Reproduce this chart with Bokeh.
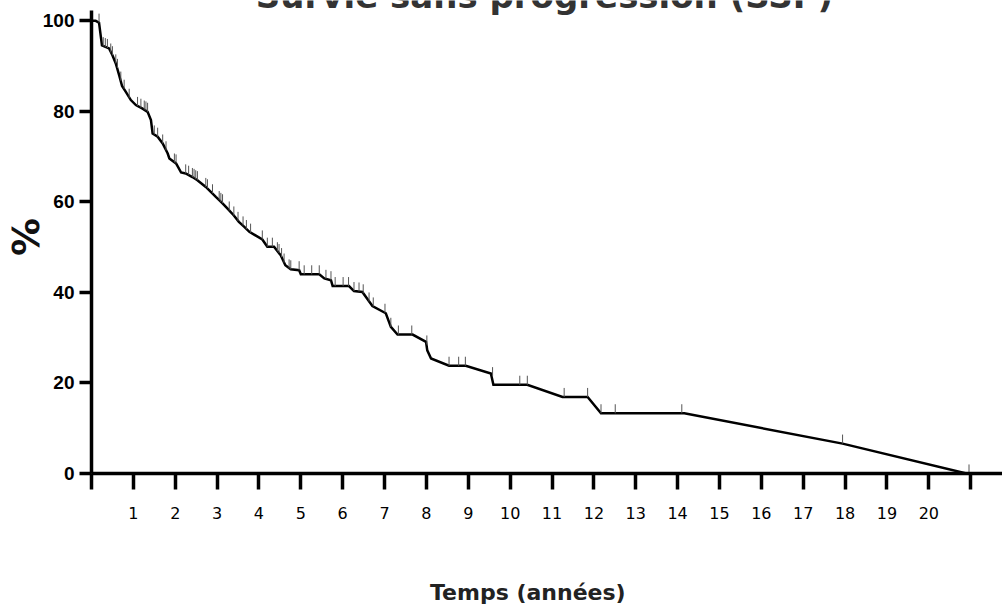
from math import pi
from bokeh.plotting import figure
from bokeh.models import Range1d, FixedTicker
from bokeh.core.properties import value
from bokeh.embed import file_html
from bokeh.resources import INLINE

# Kaplan-Meier curve (years, % survival)
years = [0.00, 0.10, 0.18, 0.25, 0.42, 0.50, 0.58, 0.66, 0.73, 0.82, 0.94, 1.06, 1.22, 1.34,
         1.42, 1.46, 1.58, 1.70, 1.82, 1.86, 2.02, 2.14, 2.25, 2.41, 2.53, 2.73, 2.85, 2.97,
         3.13, 3.25, 3.40, 3.52, 3.65, 3.77, 4.08, 4.20, 4.36, 4.52, 4.63, 4.76, 4.96, 5.00,
         5.44, 5.56, 5.72, 5.76, 6.15, 6.27, 6.47, 6.71, 7.03, 7.15, 7.31, 7.67, 7.99, 8.02,
         8.11, 8.54, 8.94, 9.54, 9.60, 10.41, 11.25, 11.85, 12.17, 14.16, 17.94, 20.90]
survival = [100.0, 100.0, 99.6, 94.6, 93.9, 92.4, 90.6, 88.0, 85.6, 84.3, 82.5, 81.4, 80.6, 79.9,
            78.1, 75.1, 74.4, 72.9, 70.7, 69.6, 68.5, 66.5, 66.3, 65.5, 64.8, 63.3, 62.2, 61.1,
            59.7, 58.5, 57.0, 55.6, 54.5, 53.4, 51.7, 50.1, 50.1, 48.2, 46.0, 45.1, 44.9, 44.0,
            44.0, 43.1, 42.7, 41.4, 41.4, 40.3, 40.1, 37.0, 35.4, 32.4, 30.7, 30.7, 29.1, 27.2,
            25.4, 23.8, 23.8, 22.1, 19.6, 19.6, 16.9, 16.9, 13.3, 13.3, 6.6, 0.0]

# censored observations (tick marks)
censor_years = [0.18, 0.28, 0.33, 0.38, 0.46, 0.50, 0.58, 0.62, 0.70, 0.78, 0.90, 1.10, 1.18, 1.26,
                1.30, 1.34, 1.50, 1.58, 1.70, 1.78, 1.98, 2.02, 2.25, 2.32, 2.41, 2.45, 2.49, 2.53,
                2.73, 2.77, 2.89, 3.05, 3.09, 3.13, 3.29, 3.40, 3.50, 3.62, 3.70, 3.80, 4.08, 4.20,
                4.32, 4.44, 4.48, 4.54, 4.60, 4.72, 4.76, 4.96, 5.08, 5.26, 5.44, 5.60, 5.72, 5.82,
                6.01, 6.14, 6.27, 6.39, 6.49, 6.63, 6.73, 7.01, 7.15, 7.33, 7.65, 8.01, 8.54, 8.77,
                8.93, 9.58, 10.23, 10.41, 11.29, 11.85, 12.17, 12.51, 14.10, 17.94, 20.96]
censor_surv = [99.6, 94.4, 94.2, 94.0, 93.0, 92.4, 90.6, 89.6, 86.8, 85.0, 83.0, 81.2, 80.8, 80.4,
               80.2, 79.9, 74.9, 74.4, 72.9, 71.4, 68.7, 68.5, 66.3, 66.0, 65.5, 65.3, 65.0, 64.8,
               63.3, 63.0, 61.9, 60.4, 60.0, 59.7, 58.1, 57.0, 55.8, 54.8, 54.0, 53.2, 51.7, 50.1,
               50.1, 49.1, 48.7, 47.8, 46.6, 45.3, 45.1, 44.9, 44.0, 44.0, 44.0, 43.0, 42.7, 41.4,
               41.4, 41.4, 40.3, 40.2, 39.8, 38.0, 36.9, 35.5, 32.4, 30.7, 30.7, 28.5, 23.8, 23.8,
               23.8, 21.5, 19.6, 19.6, 16.9, 16.9, 13.3, 13.3, 13.3, 6.6, 0.0]

x_ticks = list(range(0, 22))
x_tick_labels = {t: (str(t) if 1 <= t <= 20 else "") for t in x_ticks}
y_ticks = [0, 20, 40, 60, 80, 100]

title_text = "Survie sans progression (SSP)"
x_label = "Temps (années)"
y_label = "%"

X_END, Y_END = 21.76, 104.5

W, H = 1002, 611
p = figure(width=W, height=H, output_backend="svg", toolbar_location=None,
           x_range=Range1d(0, X_END), y_range=Range1d(0, Y_END),
           min_border_left=91, min_border_right=0, min_border_top=0, min_border_bottom=138)
p.outline_line_color = None
p.xgrid.visible = False
p.ygrid.visible = False
p.background_fill_color = "white"
p.border_fill_color = "white"

# axes
for ax in (p.xaxis[0], p.yaxis[0]):
    ax.axis_line_width = 3.5
    ax.axis_line_color = "black"
    ax.major_tick_line_width = 3.5
    ax.major_tick_line_color = "black"
    ax.major_tick_in = 0
    ax.minor_tick_line_color = None

p.xaxis.ticker = FixedTicker(ticks=x_ticks)
p.xaxis.major_label_overrides = x_tick_labels
p.xaxis.major_tick_out = 16
p.xaxis.major_label_standoff = 17
p.xaxis.major_label_text_font = "DejaVu Sans"
p.xaxis.major_label_text_font_size = "16px"
p.xaxis.major_label_text_color = "black"
# trailing no-break spaces move the centred title a little left, under the labels
p.xaxis.axis_label = x_label + "\u00a0" * 5
p.xaxis.axis_label_standoff = 58
p.xaxis.axis_label_text_font = "DejaVu Sans"
p.xaxis.axis_label_text_font_style = "bold"
p.xaxis.axis_label_text_font_size = "22px"
p.xaxis.axis_label_text_color = "#222222"

p.yaxis.bounds = (0, 102.3)
p.yaxis.ticker = FixedTicker(ticks=y_ticks)
p.yaxis.major_tick_out = 12
p.yaxis.major_label_standoff = 5
p.yaxis.major_label_text_font = "Liberation Sans"
p.yaxis.major_label_text_font_style = "bold"
p.yaxis.major_label_text_font_size = "19px"
p.yaxis.major_label_text_color = "black"
p.yaxis.axis_label = y_label
p.yaxis.axis_label_standoff = -8
p.yaxis.axis_label_text_font = "DejaVu Sans"
p.yaxis.axis_label_text_font_style = "bold"
p.yaxis.axis_label_text_font_size = "38px"
p.yaxis.axis_label_text_color = "#111111"

# curve and censor ticks
p.line(years, survival, line_color="black", line_width=2.5, line_join="miter")
p.segment(x0=censor_years, y0=censor_surv, x1=censor_years,
          y1=[v + 2.0 for v in censor_surv], line_color="#555555", line_width=1)

# title, partly cut off by the top edge as in the original
p.text(x=[10.82], y=[105.6], text=[title_text], text_align="center",
       text_baseline="alphabetic", text_font=value("DejaVu Sans"),
       text_font_style="bold", text_font_size="34px", text_color="#333333")

open("out.html", "w").write(file_html(p, INLINE))
